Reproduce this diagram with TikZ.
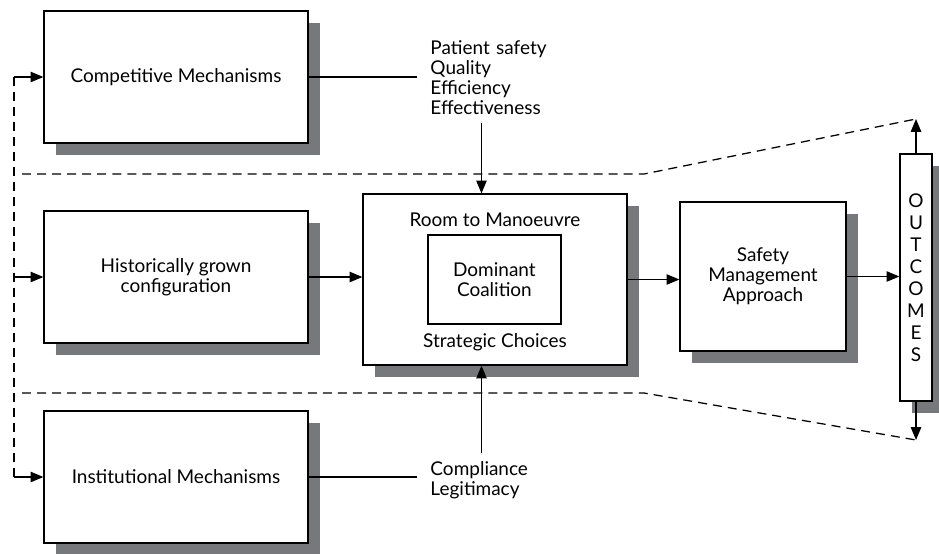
\documentclass[tikz,border=0pt]{standalone}
\usepackage{fontspec}
\setmainfont{Lato}
\usepackage{tikz}
\usetikzlibrary{arrows.meta}
\usetikzlibrary{shadows}

\definecolor{shadowgrey}{RGB}{118,120,123}

\tikzset{
  box/.style={rectangle, draw, fill=white, line width=0.9pt, align=center,
    drop shadow={shadow xshift=0.3cm, shadow yshift=-0.3cm, fill=shadowgrey, opacity=1}},
  flow/.style={-{Triangle[length=3.2mm, width=2.6mm]}, line width=0.9pt},
  border/.style={line width=0.9pt, dash pattern=on 6.4pt off 4.3pt},
  factors/.style={align=left, text width=2.55cm, inner xsep=0.33cm, inner ysep=0.2cm},
}

\begin{document}
\begin{tikzpicture}[font=\fontsize{13.5}{14.2}\selectfont]
\useasboundingbox (0,0) rectangle (23.475,-13.825);

\node [box, minimum width=6.6cm, minimum height=3.3cm] (comp) at (4.4,-1.925) {Competitive Mechanisms};
\node [box, minimum width=6.6cm, minimum height=3.3cm] (hist) at (4.4,-6.925) {Historically grown\\configuration};
\node [box, minimum width=6.6cm, minimum height=3.3cm] (inst) at (4.4,-11.925) {Institutional Mechanisms};

\node [box, minimum width=6.6cm, minimum height=4.275cm] (room) at (12.375,-6.9875) {};
\node [rectangle, draw, line width=0.9pt, align=center, minimum width=3.325cm, minimum height=2.225cm] (coal) at (12.36,-6.99) {Dominant\\Coalition};
\node (manoeuvre) at (12.375,-5.5) {Room to Manoeuvre};
\node (choices) at (12.375,-8.55) {Strategic Choices};

\node [box, minimum width=4.15cm, minimum height=3.725cm] (safety) at (19.075,-6.9125) {Safety\\Management\\Approach};
\node [box, minimum width=0.8cm, minimum height=6.175cm, inner sep=0pt,
  font=\fontsize{13.5}{15.6}\selectfont] (out) at (22.9,-6.9375) {O\\U\\T\\C\\O\\M\\E\\S};

\node [factors, anchor=west] (market) at (10.425,-1.95) {Patient~safety\\Quality\\Efficiency\\Effectiveness};
\node [factors, anchor=west] (norms) at (10.425,-12.0) {Compliance\\Legitimacy};

% environment borders
\coordinate (tl) at (0.55,-4.35);
\coordinate (tm) at (16.1,-4.35);
\coordinate (tr) at (22.9,-2.975);
\coordinate (bl) at (0.55,-9.825);
\coordinate (bm) at (16.1,-9.825);
\coordinate (br) at (22.9,-11.0);
\coordinate (loop) at (0.35,0);

\draw[border] (tl) -- (tm) -- (tr);
\draw[border] (bl) -- (bm) -- (br);

% feedback on the left
\draw[border] (comp.west -| loop) -- (inst.west -| loop);
\draw[flow] (comp.west -| loop) -- (comp.west);
\draw[flow] (hist.west -| loop) -- (hist.west);
\draw[flow] (inst.west -| loop) -- (inst.west);

\draw[line width=0.9pt] (comp.east) -- (comp.east -| market.west);
\draw[line width=0.9pt] (inst.east) -- (inst.east -| norms.west);
\draw[flow] (market.south) -- (market.south |- room.north);
\draw[flow] (norms.north) -- (norms.north |- room.south);

\draw[flow] (hist.east) -- (hist.east -| room.west);
\draw[flow] (room.east) -- (room.east -| safety.west);
\draw[flow] (safety.east) -- (safety.east -| out.west);
\draw[flow] (out.north) -- (tr);
\draw[flow] (out.south) -- (br);
\end{tikzpicture}
\end{document}
